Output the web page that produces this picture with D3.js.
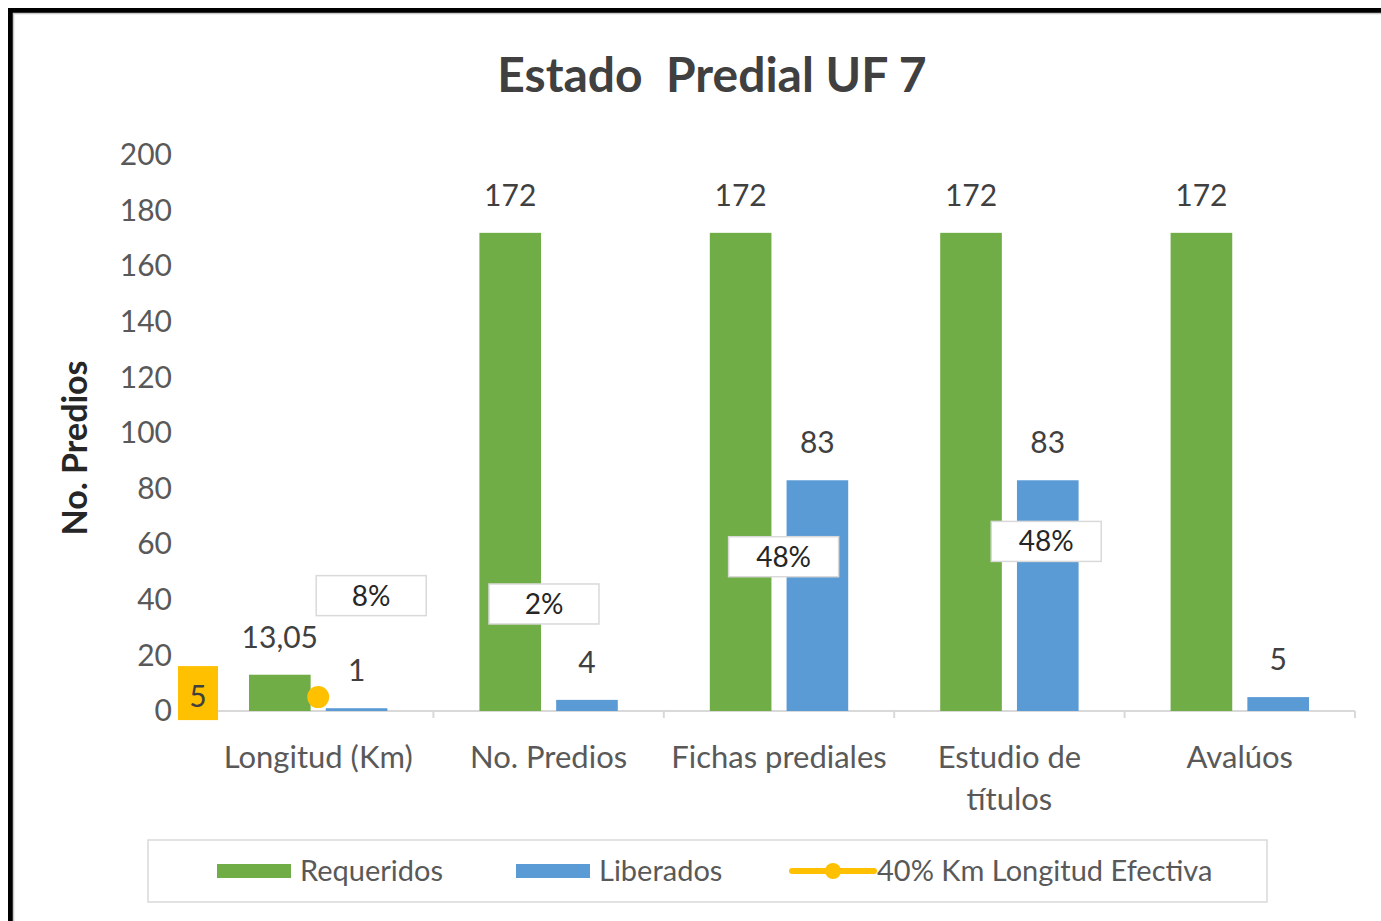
<!DOCTYPE html>
<html>
<head>
<meta charset="utf-8">
<script src="https://cdn.jsdelivr.net/npm/d3@7"></script>
<style>
  body { margin: 0; background: #fff; }
  text { font-family: Lato, "Open Sans", sans-serif; }
</style>
</head>
<body>
<div id="chart-area"></div>
<script>
// data
var categories = ["Longitud (Km)", "No. Predios", "Fichas prediales", "Estudio de títulos", "Avalúos"];
var categoryLines = [["Longitud (Km)"], ["No. Predios"], ["Fichas prediales"], ["Estudio de", "títulos"], ["Avalúos"]];
var series = ["Requeridos", "Liberados"];
var requeridos = [13.05, 172, 172, 172, 172];
var liberados = [1, 4, 83, 83, 5];
var longitudEfectiva = [5, null, null, null, null]; // 40% Km Longitud Efectiva
var porcentajes = ["8%", "2%", "48%", "48%", null];
var yTicks = [0, 20, 40, 60, 80, 100, 120, 140, 160, 180, 200];

// where the % boxes were dragged to (offset in bands, value on y)
var pctAnchor = [[0.23, 41.5], [-0.02, 38.5], [0.02, 55.5], [0.16, 61]];

var colors = { Requeridos: "#70AD47", Liberados: "#5B9BD5", linea: "#FFC000" };
var textColor = "#595959";

var W = 1381, H = 921;

var svg = d3.select("#chart-area")
    .append("svg")
        .attr("width", W)
        .attr("height", H);

svg.append("rect").attr("width", W).attr("height", H).attr("fill", "#fff");

// frame: thick black on top/left, thin grey inside
svg.append("rect")
    .attr("x", 10.5).attr("y", 10.5)
    .attr("width", W + 20).attr("height", H + 20)
    .attr("fill", "none")
    .attr("stroke", "#000")
    .attr("stroke-width", 5);
svg.append("rect")
    .attr("x", 13.5).attr("y", 13.5)
    .attr("width", W + 20).attr("height", H + 20)
    .attr("fill", "none")
    .attr("stroke", "#c8c8c8")
    .attr("stroke-width", 1.5);

var x = d3.scaleBand()
    .domain(categories)
    .range([203, 1355]);

var x1 = d3.scaleBand()
    .domain(series)
    .range([46, x.bandwidth() - 46])
    .paddingInner(0.197);

var y = d3.scaleLinear()
    .domain([0, 200])
    .range([711, 155]);

var fmt = d3.formatLocale({ decimal: ",", thousands: ".", grouping: [3], currency: ["$", ""] }).format(",.2~f");

// title
svg.append("text")
    .attr("x", 712).attr("y", 92)
    .attr("text-anchor", "middle")
    .attr("font-size", 48)
    .attr("font-weight", "bold")
    .attr("fill", "#404040")
    .attr("xml:space", "preserve")
    .text("Estado  Predial UF 7");

// y axis title
svg.append("text")
    .attr("transform", "translate(87,448) rotate(-90)")
    .attr("text-anchor", "middle")
    .attr("font-size", 34)
    .attr("font-weight", "bold")
    .attr("fill", "#262626")
    .text("No. Predios");

// y tick labels (no axis line)
var yAxis = svg.append("g")
    .attr("transform", "translate(172,0)")
    .call(d3.axisLeft(y).tickValues(yTicks).tickSize(0).tickPadding(0));
yAxis.select(".domain").remove();
yAxis.selectAll("text")
    .attr("font-size", 30)
    .attr("fill", textColor)
    .style("font-family", "Lato, 'Open Sans', sans-serif");

// x axis
var xAxis = svg.append("g")
    .attr("transform", "translate(0," + y(0) + ")");
xAxis.append("line")
    .attr("x1", x.range()[0]).attr("x2", x.range()[1])
    .attr("stroke", "#d9d9d9").attr("stroke-width", 2);
xAxis.selectAll(".tick")
    .data(categories.concat([null]))
    .enter()
        .append("line")
        .attr("x1", function(d, i){ return x.range()[0] + i * x.step(); })
        .attr("x2", function(d, i){ return x.range()[0] + i * x.step(); })
        .attr("y1", 0).attr("y2", 7)
        .attr("stroke", "#d9d9d9").attr("stroke-width", 2);

categories.forEach(function(c, i){
    var t = xAxis.append("text")
        .attr("x", x(c) + x.bandwidth() / 2)
        .attr("y", 57)
        .attr("text-anchor", "middle")
        .attr("font-size", 31)
        .attr("fill", textColor);
    categoryLines[i].forEach(function(line, j){
        t.append("tspan")
            .attr("x", x(c) + x.bandwidth() / 2)
            .attr("dy", j === 0 ? 0 : 42)
            .text(line);
    });
});

// bars
var rows = categories.map(function(c, i){
    return { cat: c, Requeridos: requeridos[i], Liberados: liberados[i] };
});

var groups = svg.selectAll("g.grupo")
        .data(rows)
    .enter()
        .append("g")
        .attr("class", "grupo")
        .attr("transform", function(d){ return "translate(" + x(d.cat) + ",0)"; });

groups.selectAll("rect")
        .data(function(d){ return series.map(function(s){ return { s: s, v: d[s] }; }); })
    .enter()
        .append("rect")
        .attr("x", function(d){ return x1(d.s); })
        .attr("y", function(d){ return y(d.v); })
        .attr("width", x1.bandwidth())
        .attr("height", function(d){ return y(0) - y(d.v); })
        .attr("fill", function(d){ return colors[d.s]; });

groups.selectAll("text.val")
        .data(function(d){ return series.map(function(s){ return { s: s, v: d[s] }; }); })
    .enter()
        .append("text")
        .attr("class", "val")
        .attr("x", function(d){ return x1(d.s) + x1.bandwidth() / 2; })
        .attr("y", function(d){ return y(d.v) - 27; })
        .attr("text-anchor", "middle")
        .attr("font-size", 30)
        .attr("fill", "#404040")
        .text(function(d){ return fmt(d.v); });

// percentage boxes
porcentajes.forEach(function(p, i){
    if (p === null) return;
    var cx = x(categories[i]) + x.bandwidth() / 2 + pctAnchor[i][0] * x.step();
    var cy = y(pctAnchor[i][1]);
    svg.append("rect")
        .attr("x", cx - 55).attr("y", cy - 20)
        .attr("width", 110).attr("height", 40)
        .attr("fill", "#fff")
        .attr("stroke", "#d9d9d9").attr("stroke-width", 1.5);
    svg.append("text")
        .attr("x", cx).attr("y", cy + 10)
        .attr("text-anchor", "middle")
        .attr("font-size", 28)
        .attr("fill", "#262626")
        .text(p);
});

// line series (single point) with its yellow label
longitudEfectiva.forEach(function(v, i){
    if (v === null) return;
    var cx = x(categories[i]) + x.bandwidth() / 2;
    svg.append("circle")
        .attr("cx", cx).attr("cy", y(v))
        .attr("r", 11)
        .attr("fill", colors.linea);
    var lx = x(categories[i]) - 5;
    svg.append("rect")
        .attr("x", lx - 20).attr("y", y(v) - 31)
        .attr("width", 40).attr("height", 54)
        .attr("fill", colors.linea);
    svg.append("text")
        .attr("x", lx).attr("y", y(v) + 10)
        .attr("text-anchor", "middle")
        .attr("font-size", 30)
        .attr("fill", "#404040")
        .text(fmt(v));
});

// legend
var legend = svg.append("g");
legend.append("rect")
    .attr("x", 148).attr("y", 840)
    .attr("width", 1119).attr("height", 62)
    .attr("fill", "#fff")
    .attr("stroke", "#d9d9d9").attr("stroke-width", 1.5);

var legendItems = [
    { name: "Requeridos", x: 217, kind: "bar", color: colors.Requeridos },
    { name: "Liberados", x: 516, kind: "bar", color: colors.Liberados },
    { name: "40% Km Longitud Efectiva", x: 792, kind: "line", color: colors.linea }
];
legendItems.forEach(function(d){
    if (d.kind === "bar") {
        legend.append("rect")
            .attr("x", d.x).attr("y", 864)
            .attr("width", 74).attr("height", 14)
            .attr("fill", d.color);
        legend.append("text")
            .attr("x", d.x + 83).attr("y", 881)
            .attr("font-size", 29)
            .attr("fill", textColor)
            .text(d.name);
    } else {
        legend.append("line")
            .attr("x1", d.x).attr("x2", d.x + 82)
            .attr("y1", 871).attr("y2", 871)
            .attr("stroke", d.color).attr("stroke-width", 6)
            .attr("stroke-linecap", "round");
        legend.append("circle")
            .attr("cx", d.x + 41).attr("cy", 871).attr("r", 8)
            .attr("fill", d.color);
        legend.append("text")
            .attr("x", d.x + 85).attr("y", 881)
            .attr("font-size", 29)
            .attr("fill", textColor)
            .text(d.name);
    }
});
</script>
</body>
</html>
